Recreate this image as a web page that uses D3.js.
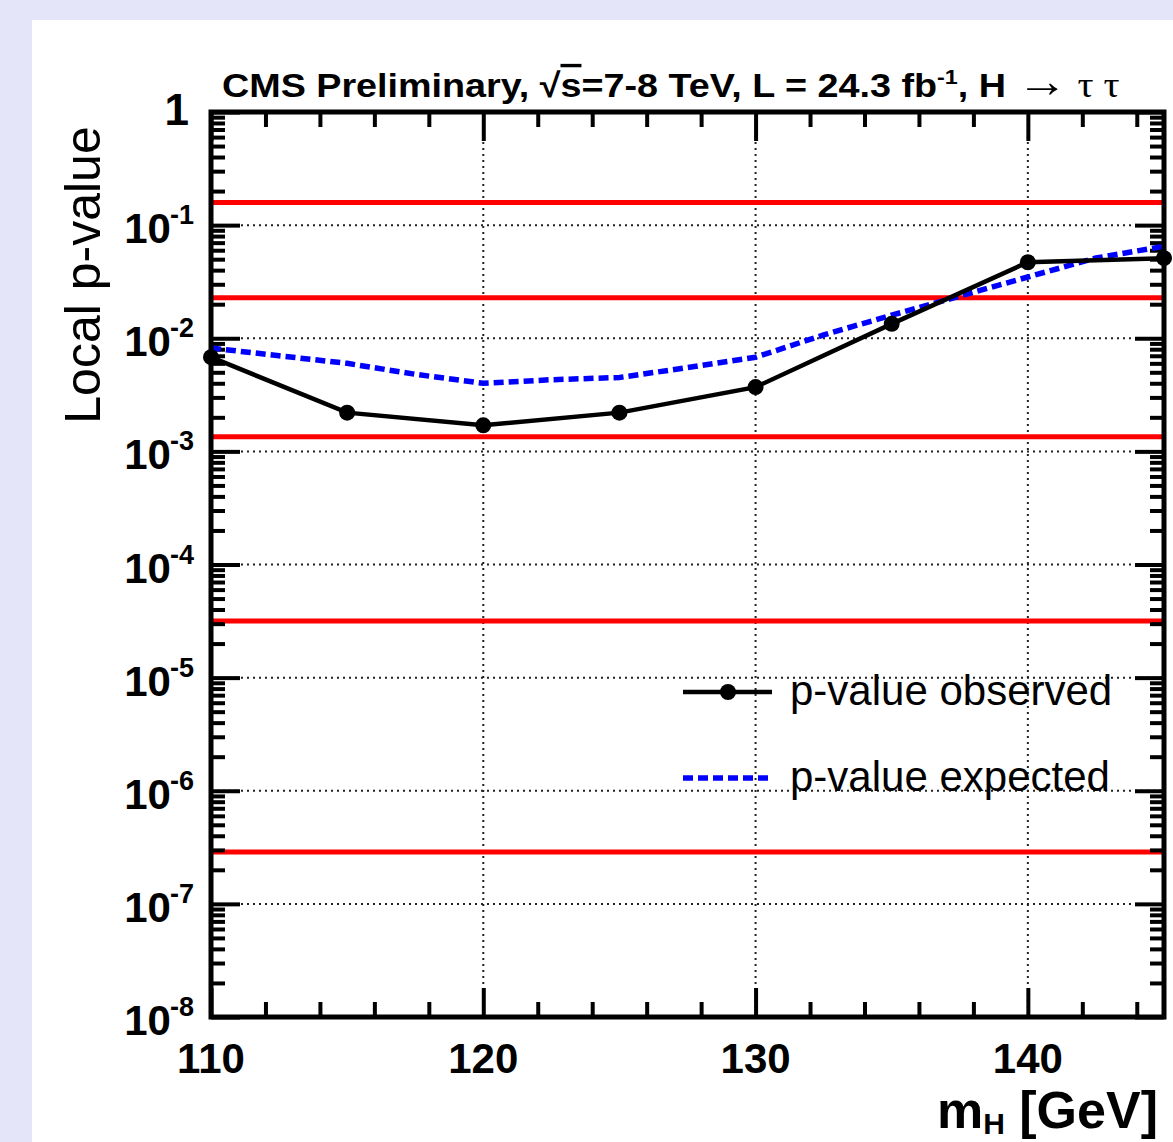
<!DOCTYPE html>
<html>
<head>
<meta charset="utf-8">
<script src="https://cdn.jsdelivr.net/npm/d3@7"></script>
<style>
  html, body { margin: 0; padding: 0; background: #e5e5fa; overflow: hidden; }
  svg { display: block; }
</style>
</head>
<body>
<div id="chart"></div>
<script>
// mass points and p-values
const massObs = [110, 115, 120, 125, 130, 135, 140, 145];
const pObserved = [0.0068, 0.0022, 0.0017, 0.0022, 0.0037, 0.0134, 0.047, 0.051];

const massExp = [110, 112.5, 115, 117.5, 120, 122.5, 125, 127.5, 130, 132.5, 135, 137.5, 140, 142.5, 145];
const pExpected = [0.0082, 0.0070, 0.0060, 0.0048, 0.0040, 0.0043, 0.0045, 0.0055, 0.0068, 0.0107, 0.016, 0.0236, 0.0348, 0.0512, 0.065];

// 1..5 sigma reference lines
const sigmaP = [0.1587, 0.02275, 0.00135, 3.17e-5, 2.87e-7];

const xMajor = [110, 120, 130, 140];
const xMinor = [112, 114, 116, 118, 122, 124, 126, 128, 132, 134, 136, 138, 142, 144];
const xGrid = [120, 130, 140];
const yExponents = [0, -1, -2, -3, -4, -5, -6, -7, -8];

const legendLabels = ["p-value observed", "p-value expected"];

const width = 1173, height = 1142;
const plot = {left: 211, right: 1164, top: 112, bottom: 1017};
const font = "'Liberation Sans', Arial, Helvetica, sans-serif";

const svg = d3.select("#chart").append("svg")
    .attr("width", width)
    .attr("height", height);

// white canvas on the lavender page
svg.append("rect")
    .attr("x", 32).attr("y", 20)
    .attr("width", width - 32).attr("height", height - 20)
    .style("fill", "#ffffff");

const x = d3.scaleLinear().domain([110, 145]).range([plot.left, plot.right]);
const y = d3.scaleLog().domain([1e-8, 1]).range([plot.bottom, plot.top]);

const yMajor = yExponents.map(e => Math.pow(10, e));
const yMinor = [];
yExponents.slice(1).forEach(e => {
    d3.range(2, 10).forEach(m => yMinor.push(m * Math.pow(10, e)));
});

// dotted grid
const grid = svg.append("g");
grid.selectAll(".hgrid")
    .data(yMajor.slice(1, -1))
    .enter().append("line")
    .attr("x1", plot.left).attr("x2", plot.right)
    .attr("y1", d => y(d)).attr("y2", d => y(d))
    .style("stroke", "#222").style("stroke-width", 2).style("stroke-dasharray", "2,4");
grid.selectAll(".vgrid")
    .data(xGrid)
    .enter().append("line")
    .attr("x1", d => x(d)).attr("x2", d => x(d))
    .attr("y1", plot.top).attr("y2", plot.bottom)
    .style("stroke", "#222").style("stroke-width", 2).style("stroke-dasharray", "2,4");

// sigma lines
svg.selectAll(".sigma")
    .data(sigmaP)
    .enter().append("line")
    .attr("x1", plot.left).attr("x2", plot.right)
    .attr("y1", d => y(d)).attr("y2", d => y(d))
    .style("stroke", "#ff0000").style("stroke-width", 5);

// ticks on all four sides
function tickAxis(axis, tx, ty) {
    svg.append("g")
        .attr("transform", `translate(${tx},${ty})`)
        .call(axis.tickFormat(""))
        .call(g => g.select(".domain").remove())
        .call(g => g.selectAll("line").style("stroke", "#000").style("stroke-width", 4));
}
tickAxis(d3.axisTop(x).tickValues(xMajor).tickSize(29), 0, plot.bottom);
tickAxis(d3.axisTop(x).tickValues(xMinor).tickSize(15), 0, plot.bottom);
tickAxis(d3.axisBottom(x).tickValues(xMajor).tickSize(29), 0, plot.top);
tickAxis(d3.axisBottom(x).tickValues(xMinor).tickSize(15), 0, plot.top);
tickAxis(d3.axisRight(y).tickValues(yMajor).tickSize(29), plot.left, 0);
tickAxis(d3.axisRight(y).tickValues(yMinor).tickSize(14), plot.left, 0);
tickAxis(d3.axisLeft(y).tickValues(yMajor).tickSize(29), plot.right, 0);
tickAxis(d3.axisLeft(y).tickValues(yMinor).tickSize(14), plot.right, 0);

// expected (blue dashed)
const line = d3.line().x(d => x(d[0])).y(d => y(d[1]));
svg.append("path")
    .datum(massExp.map((m, i) => [m, pExpected[i]]))
    .attr("d", line)
    .style("fill", "none").style("stroke", "#0000ff")
    .style("stroke-width", 5.5).style("stroke-dasharray", "10,5");

// observed (black with markers)
const obs = massObs.map((m, i) => [m, pObserved[i]]);
svg.append("path")
    .datum(obs)
    .attr("d", line)
    .style("fill", "none").style("stroke", "#000").style("stroke-width", 4.5);
svg.selectAll(".pt")
    .data(obs)
    .enter().append("circle")
    .attr("cx", d => x(d[0])).attr("cy", d => y(d[1]))
    .attr("r", 8)
    .style("fill", "#000");

// frame
svg.append("rect")
    .attr("x", plot.left).attr("y", plot.top)
    .attr("width", plot.right - plot.left).attr("height", plot.bottom - plot.top)
    .style("fill", "none").style("stroke", "#000").style("stroke-width", 5);

// x tick labels
svg.selectAll(".xlab")
    .data(xMajor)
    .enter().append("text")
    .attr("x", d => x(d)).attr("y", 1073)
    .attr("text-anchor", "middle")
    .style("font-family", font).style("font-weight", "bold").style("font-size", "42px")
    .text(d => d);

// y tick labels: 1 and 10^-n
yExponents.forEach(e => {
    const ty = y(Math.pow(10, e));
    if (e === 0) {
        svg.append("text")
            .attr("x", 189).attr("y", ty + 13)
            .attr("text-anchor", "end")
            .style("font-family", font).style("font-weight", "bold").style("font-size", "44px")
            .text("1");
        return;
    }
    const t = svg.append("text")
        .attr("x", 194).attr("y", ty + 18)
        .attr("text-anchor", "end")
        .style("font-family", font).style("font-weight", "bold").style("font-size", "42px");
    t.append("tspan").text("10");
    t.append("tspan").attr("dy", -19).attr("dx", -1).style("font-size", "27px").text(e);
});

// axis titles
svg.append("text")
    .attr("transform", "translate(100,275) rotate(-90)")
    .attr("text-anchor", "middle")
    .style("font-family", font).style("font-size", "50px")
    .text("Local p-value");

const xt = svg.append("text")
    .attr("x", 1158).attr("y", 1128)
    .attr("text-anchor", "end")
    .style("font-family", font).style("font-weight", "bold").style("font-size", "52px");
xt.append("tspan").text("m");
xt.append("tspan").attr("dy", 6).style("font-size", "30px").text("H");
xt.append("tspan").attr("dy", -6).text(" [GeV]");

// header, narrowed to fit the span above the frame
const serif = "'Liberation Serif', 'Times New Roman', serif";
const title = svg.append("text")
    .attr("x", 0).attr("y", 0)
    .style("font-family", font)
    .style("font-weight", "bold").style("font-size", "34px");
title.append("tspan").text("CMS  Preliminary, √");
title.append("tspan").style("text-decoration", "overline").text("s");
title.append("tspan").text("=7-8 TeV, L = 24.3 fb");
title.append("tspan").attr("dy", -13).style("font-size", "21px").text("-1");
title.append("tspan").attr("dy", 13).text(", H ");
title.append("tspan")
    .style("font-family", serif).style("font-weight", "normal").style("font-size", "46px")
    .text("→");
title.append("tspan")
    .style("font-family", serif).style("font-weight", "normal").style("font-size", "36px")
    .text(" τ τ");
const tb = title.node().getBBox();
const tScale = (1120 - 222) / tb.width;
title.attr("transform", `translate(222,97) scale(${tScale},1)`);

// legend
const legend = svg.append("g");
legend.append("line")
    .attr("x1", 683).attr("x2", 772).attr("y1", 692).attr("y2", 692)
    .style("stroke", "#000").style("stroke-width", 4.5);
legend.append("circle")
    .attr("cx", 728).attr("cy", 692).attr("r", 8).style("fill", "#000");
legend.append("line")
    .attr("x1", 683).attr("x2", 772).attr("y1", 778).attr("y2", 778)
    .style("stroke", "#0000ff").style("stroke-width", 5.5).style("stroke-dasharray", "10,5");
legend.selectAll(".ltxt")
    .data(legendLabels)
    .enter().append("text")
    .attr("x", 790).attr("y", (d, i) => 705 + i * 86)
    .style("font-family", font).style("font-size", "42px")
    .text(d => d);
</script>
</body>
</html>
